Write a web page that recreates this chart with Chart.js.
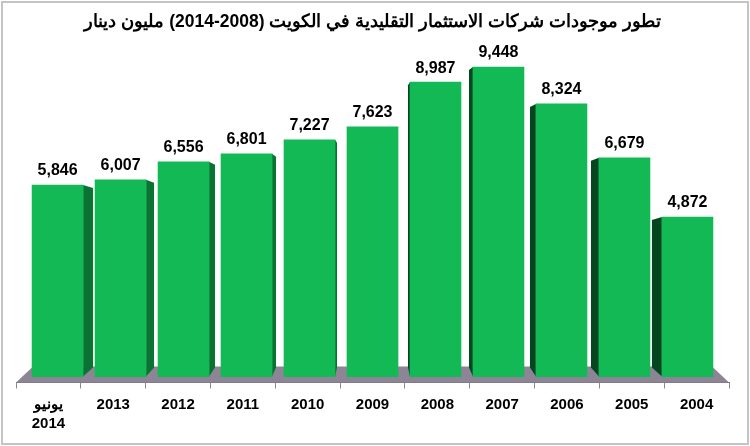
<!DOCTYPE html>
<html>
<head>
<meta charset="utf-8">
<script src="https://cdn.jsdelivr.net/npm/chart.js@4"></script>
<style>
  body { margin: 0; background: #fff; }
  #wrap { width: 750px; height: 446px; }
</style>
</head>
<body>
<div id="wrap"><canvas id="grafica" width="750" height="446"></canvas></div>
<script>
const titulo = 'تطور موجودات شركات الاستثمار التقليدية في الكويت (2008-2014) مليون دينار';
const labels = [['يونيو', '2014'], '2013', '2012', '2011', '2010', '2009', '2008', '2007', '2006', '2005', '2004'];
const valores = [5846, 6007, 6556, 6801, 7227, 7623, 8987, 9448, 8324, 6679, 4872];

// efecto 3D: piso, caras laterales y etiquetas
const barras3d = {
    id: 'barras3d',
    beforeDraw(chart) {
        const c = chart.ctx;
        c.save();
        c.fillStyle = '#fff';
        c.fillRect(0, 0, chart.width, chart.height);
        c.strokeStyle = '#c4c4c4';
        c.lineWidth = 2;
        c.strokeRect(2, 2, chart.width - 4, chart.height - 4);
        c.restore();
    },
    beforeDatasetsDraw(chart) {
        const c = chart.ctx;
        const a = chart.chartArea;
        c.save();
        c.fillStyle = '#8d8596';
        c.beginPath();
        c.moveTo(a.left, a.bottom);
        c.lineTo(a.right, a.bottom);
        c.lineTo(a.right - 17, a.bottom - 16);
        c.lineTo(a.left + 17, a.bottom - 16);
        c.closePath();
        c.fill();

        const cx = (a.left + a.right) / 2;
        chart.getDatasetMeta(0).data.forEach(bar => {
            const p = bar.getProps(['x', 'y', 'base', 'width'], true);
            const s = (cx - p.x) / 31.5;
            const ex = s > 0 ? p.x + p.width / 2 : p.x - p.width / 2;
            c.fillStyle = s > 0 ? '#0a7334' : '#054621';
            c.beginPath();
            c.moveTo(ex, p.y);
            c.lineTo(ex + s, p.y + 3);
            c.lineTo(ex + s, p.base - 9);
            c.lineTo(ex, p.base);
            c.closePath();
            c.fill();
        });
        c.restore();
    },
    afterDatasetsDraw(chart) {
        const c = chart.ctx;
        c.save();
        c.fillStyle = '#000';
        c.font = 'bold 16px "Liberation Sans", Arial, sans-serif';
        c.textAlign = 'center';
        c.textBaseline = 'middle';
        chart.getDatasetMeta(0).data.forEach((bar, i) => {
            c.fillText(valores[i].toLocaleString('en-US'), bar.x, bar.y - 14);
        });
        c.restore();
    }
};

const data = {
    labels: labels,
    datasets: [{
        data: valores.map((v, i) => ({ x: i, y: v })),
        xAxisID: 'xb',
        backgroundColor: '#12b955',
        borderWidth: 0,
        barThickness: 51
    }]
};

const config = {
    type: 'bar',
    data: data,
    plugins: [barras3d],
    options: {
        responsive: false,
        animation: false,
        layout: {
            padding: { left: 16, right: 21, top: 0, bottom: 6 }
        },
        plugins: {
            legend: { display: false },
            tooltip: { enabled: false },
            title: {
                display: true,
                text: titulo,
                color: '#000',
                font: { family: '"Liberation Sans", Arial, sans-serif', size: 17.5, weight: 'bold' },
                padding: { top: 12, bottom: 16 }
            }
        },
        scales: {
            x: {
                type: 'category',
                offset: true,
                grid: {
                    offset: true,
                    drawOnChartArea: false,
                    drawTicks: true,
                    tickLength: 6,
                    color: '#8a8a8a'
                },
                border: { display: true, color: '#77717c' },
                ticks: {
                    color: '#000',
                    padding: 7,
                    font: { family: '"Liberation Sans", Arial, sans-serif', size: 15, weight: 'bold', lineHeight: 1.25 }
                }
            },
            xb: {
                type: 'linear',
                display: false,
                offset: false,
                grid: { offset: false },
                min: -0.66,
                max: 10.66
            },
            y: {
                display: false,
                min: -180,
                max: 10000
            }
        }
    }
};

const ctx = document.querySelector('#grafica');
const graficaBarras = new Chart(ctx, config);
</script>
</body>
</html>
